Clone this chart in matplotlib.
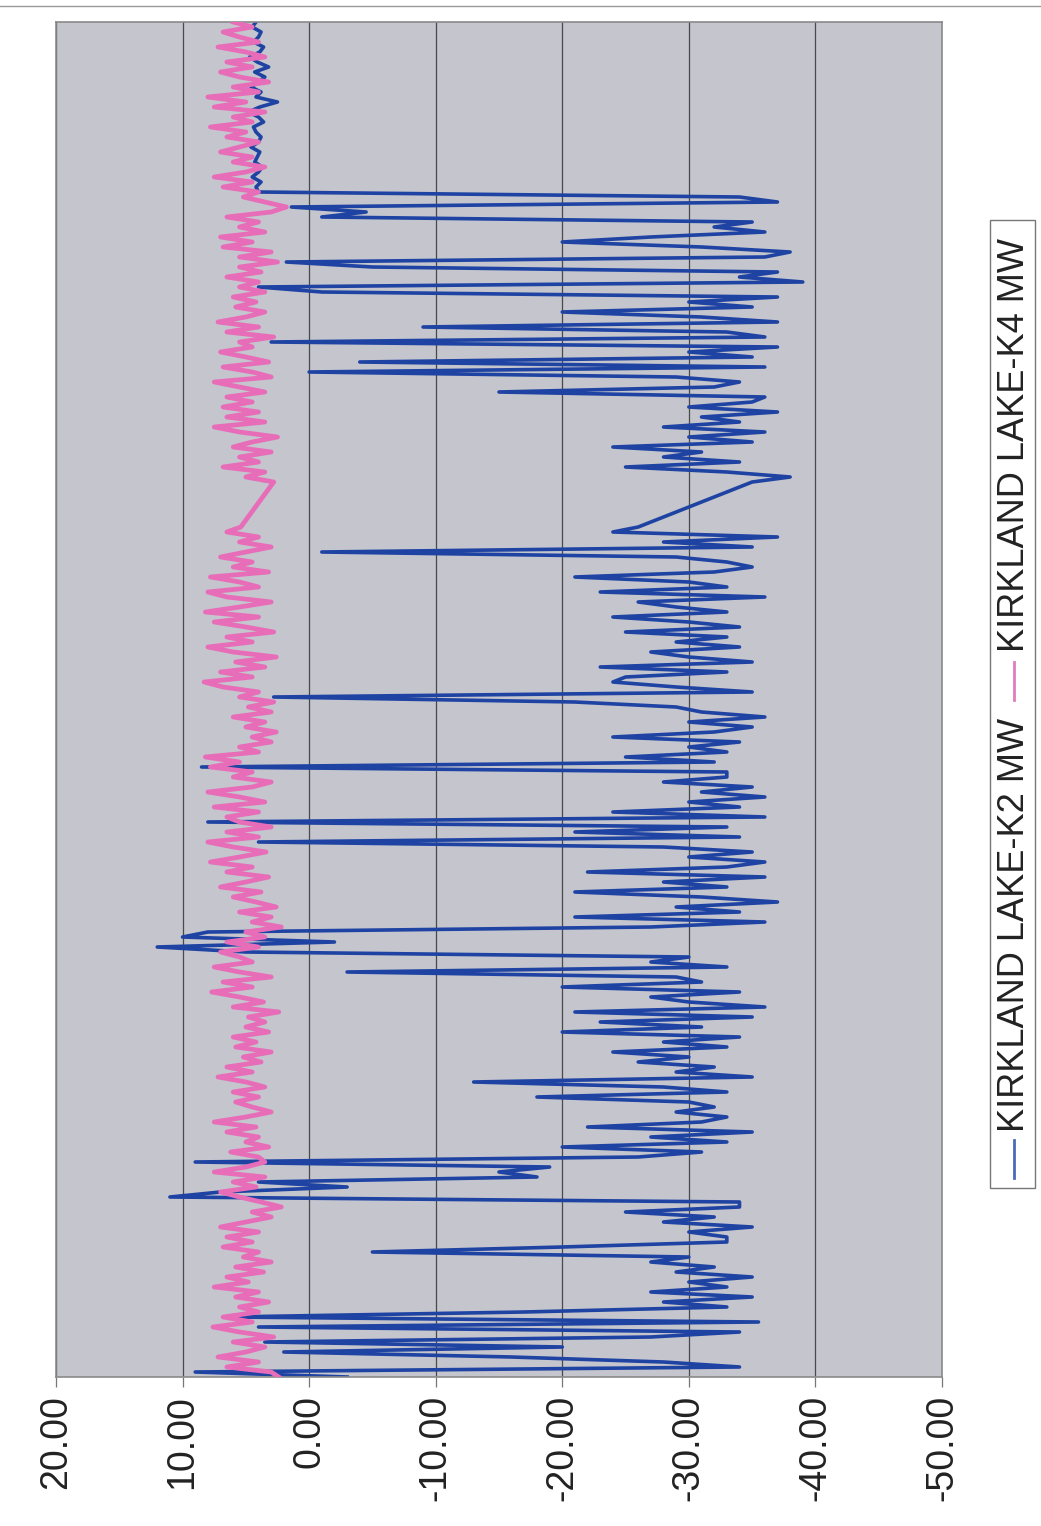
import numpy as np
import matplotlib
matplotlib.use("Agg")
import matplotlib.pyplot as plt
from matplotlib.lines import Line2D
from matplotlib.patches import Rectangle

plt.rcParams["font.family"] = ["Liberation Sans", "DejaVu Sans"]

# sample number runs from the bottom of the page to the top;
# samples 171-178 are missing, so the lines jump straight across there
sample = np.r_[0:171, 179:272]

k2_mw = [
    # 0-27
    -3, 9, -34, -28, -16, 2, -20, 3.5, -27, -34, 4, -35.5, 6.4, -17,
    -33, -28, -35, -27, -33, -30, -35, -29, -32, -27, -30, -5, -20, -33,
    # 28-55
    -33, -30, -35, -28, -32, -25, -34, -34, 11, 7, -3, 4, -18, -15,
    -19, 9, -26, -31, -20, -33, -27, -35, -22, -31, -33, -29, -32, -30,
    # 56-83
    -18, -33, -28, -13, -35, -29, -32, -26, -30, -24, -33, -28, -34, -20,
    -31, -23, -35, -21, -36, -30, -27, -34, -20, -31, -29, -3, -33, -27,
    # 84-111
    -30, 5, 12, -2, 10, 8, -27, -36, -21, -34, -29, -37, -31, -21,
    -33, -28, -36, -22, -33, -36, -30, -35, -28, 4, -34, -21, -33, 8,
    # 112-139
    -36, -24, -34, -30, -36, -31, -35, -28, -33, -33, 8.5, -32, -25, -33,
    -30, -34, -24, -32, -35, -30, -36, -31, -29, -21, 2.8, -35, -29, -24,
    # 140-167
    -25, -33, -23, -35, -30, -27, -34, -29, -33, -25, -34, -30, -24, -33,
    -29, -26, -36, -23, -33, -30, -21, -32, -35, -33, -29, -1, -35, -28,
    # 168-170
    -37, -24, -26,
    # 179-195
    -35, -38, -33, -25, -34, -28, -31, -24, -35, -30, -36, -28, -34, -31,
    -37, -30, -35,
    # 196-223
    -36, -15, -32, -34, -29, 0, -36, -4, -35, -30, -37, 3, -36, -33,
    -9, -37, -31, -20, -35, -30, -37, -1, 4, -39, -34, -37, -5, 1.8,
    # 224-249
    -36, -38, -31, -20, -27, -36, -32, -35, -1, -4.5, 1.4, -37, -34, 4,
    4.2, 3.8, 4.5, 4.0, 3.7, 4.3, 4.1, 3.9, 4.6, 4.0, 3.8, 4.2,
    # 250-271
    4.4, 3.6, 4.0, 4.8, 3.9, 2.5, 4.2, 3.8, 4.6, 4.0, 3.5, 4.3, 3.2, 4.1,
    4.7, 3.9, 3.6, 4.4, 4.0, 3.8, 4.5, 4.2,
]

k4_mw = [
    # 0-27
    2.4, 3.0, 6.5, 4.0, 7.2, 5.0, 3.5, 6.0, 2.8, 5.5, 7.6, 4.5, 6.8, 4.0,
    5.5, 3.2, 5.8, 4.0, 7.5, 4.8, 6.5, 3.6, 5.8, 3.0, 5.2, 4.0, 6.8, 4.5,
    # 28-55
    6.5, 4.0, 7.0, 5.0, 3.0, 4.5, 2.2, 3.8, 5.5, 7.0, 4.2, 6.0, 3.5, 7.5,
    5.0, 3.5, 4.0, 6.2, 3.2, 5.0, 4.0, 6.5, 4.2, 7.5, 5.0, 3.0, 4.5, 5.8,
    # 56-83
    4.0, 6.0, 3.5, 5.0, 7.2, 4.5, 6.5, 3.8, 5.2, 3.0, 5.8, 4.2, 6.0, 3.2,
    5.0, 3.5, 4.8, 2.4, 6.0, 3.6, 5.5, 7.7, 4.5, 6.8, 3.0, 5.5, 7.5, 4.5,
    # 84-111
    5.5, 7.0, 4.0, 6.5, 3.5, 5.0, 2.2, 4.5, 3.0, 5.5, 2.6, 4.2, 6.0, 3.8,
    7.0, 5.0, 3.2, 6.5, 4.5, 7.8, 5.5, 3.4, 6.0, 8.0, 4.0, 6.5, 3.0, 5.5,
    # 112-139
    6.5, 4.0, 7.5, 3.5, 5.5, 8.0, 4.5, 3.0, 6.0, 4.5, 7.8, 5.5, 8.2, 4.0,
    5.5, 3.0, 4.5, 2.6, 5.0, 3.5, 6.0, 3.0, 4.8, 2.8, 5.5, 4.0, 6.8, 8.3,
    # 140-167
    4.5, 7.0, 3.5, 5.8, 2.6, 6.0, 8.0, 4.5, 6.5, 2.8, 5.0, 7.5, 4.0, 8.2,
    5.5, 3.0, 6.5, 8.0, 4.0, 5.5, 7.8, 3.2, 6.0, 4.5, 7.0, 5.0, 3.0, 5.5,
    # 168-170
    4.0, 6.5, 5.4,
    # 179-195
    2.8, 5.0, 3.5, 6.8, 4.0, 5.5, 3.0, 6.0, 4.5, 2.5, 5.5, 7.5, 3.5, 6.5,
    4.0, 6.8, 4.5,
    # 196-223
    6.5, 3.5, 5.5, 7.5, 3.0, 4.5, 6.8, 3.2, 5.0, 7.0, 4.5, 5.5, 2.8, 6.5,
    4.0, 7.2, 5.0, 3.5, 5.8, 4.2, 6.0, 3.5, 5.5, 4.0, 6.5, 3.8, 5.5, 2.5,
    # 224-249
    5.5, 3.0, 6.8, 4.5, 7.0, 3.5, 5.5, 4.0, 6.5, 3.0, 1.8, 3.5, 5.2, 4.0,
    6.8, 4.5, 7.5, 5.0, 3.5, 6.0, 4.5, 7.0, 5.5, 4.0, 6.5, 5.0,
    # 250-271
    7.8, 4.5, 6.0, 3.5, 7.5, 5.0, 8.0, 4.0, 6.0, 3.2, 5.5, 7.0, 4.5, 6.5,
    3.5, 5.0, 7.2, 4.0, 5.5, 6.8, 4.5, 6.0,
]

value_ticks = [20, 10, 0, -10, -20, -30, -40, -50]
value_labels = [f"{v:.2f}" for v in value_ticks]
series_names = ["KIRKLAND LAKE-K2 MW", "KIRKLAND LAKE-K4 MW"]
series_colors = ["#1f43a3", "#e86db8"]
legend_colors = ["#4a6cb8", "#e07cc0"]

W, H = 1041, 1526
fig = plt.figure(figsize=(W / 100, H / 100), dpi=100)
fig.patch.set_facecolor("white")

# the page is scanned sideways: value axis runs across, time runs up
ax = fig.add_axes([56 / W, 1 - 1377 / H, 886 / W, 1355 / H])
ax.set_facecolor("#c4c5cd")
ax.plot(k2_mw, sample, color=series_colors[0], lw=2.6, zorder=2)
ax.plot(k4_mw, sample, color=series_colors[1], lw=3.4, zorder=3)

ax.set_xlim(20, -50)
ax.set_ylim(sample[0], sample[-1])
ax.set_xticks(value_ticks)
ax.set_xticklabels(value_labels, rotation=90, fontsize=27, color="#222222")
ax.set_yticks([])
ax.grid(axis="x", color="#4a4a4a", lw=0.9, zorder=1)
ax.set_axisbelow(True)
ax.tick_params(axis="x", direction="out", length=7, width=0.9, color="#777777", pad=6)
for s in ax.spines.values():
    s.set_color("#8a8a8a")
    s.set_linewidth(1.2)

# legend, drawn sideways like the rest of the page
fig.add_artist(Rectangle((990 / W, 1 - 1188 / H), 45 / W, 968 / H,
                         transform=fig.transFigure, fill=False, ec="#777777", lw=1.0))
handle_spans = [(1178, 1140), (700, 662)]
text_starts = [1132, 652]
for name, col, (y0, y1), ys in zip(series_names, legend_colors, handle_spans, text_starts):
    fig.add_artist(Line2D([1014 / W, 1014 / W], [1 - y0 / H, 1 - y1 / H],
                          transform=fig.transFigure, color=col, lw=2.0))
    fig.text(1014 / W, 1 - ys / H, name, rotation=90, ha="center", va="bottom",
             fontsize=26, color="#222222")

# edge of the scanned sheet
fig.add_artist(Line2D([0, 1], [1 - 6 / H, 1 - 6 / H], transform=fig.transFigure,
                      color="#999999", lw=1.0))

fig.savefig("out.png", dpi=100, facecolor="white")
